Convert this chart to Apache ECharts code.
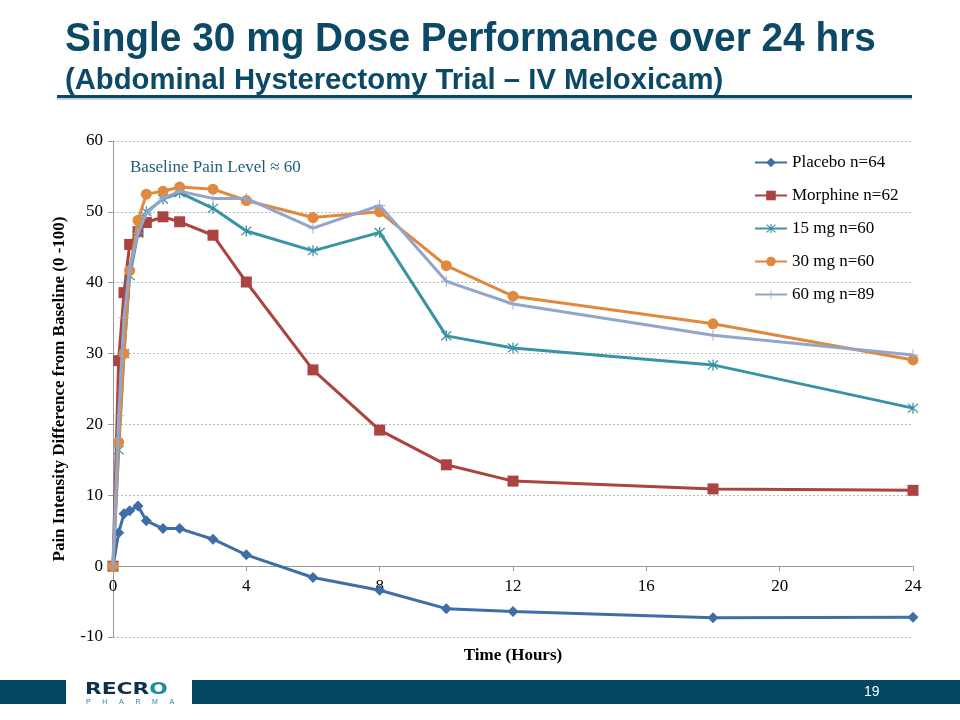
<!DOCTYPE html>
<html>
<head>
<meta charset="utf-8">
<script src="https://cdn.jsdelivr.net/npm/echarts@6/dist/echarts.min.js"></script>
<style>
html,body{margin:0;padding:0;background:#fff;}
#c{width:960px;height:720px;}
</style>
</head>
<body>
<div id="c"></div>
<script>
// ---- data ----
var timeHours = [0, 0.17, 0.33, 0.5, 0.75, 1, 1.5, 2, 3, 4, 6, 8, 10, 12, 18, 24];
var seriesNames = ['Placebo n=64', 'Morphine n=62', '15 mg n=60', '30 mg n=60', '60 mg n=89'];
var placebo  = [0, 4.7, 7.4, 7.8, 8.5, 6.4, 5.3, 5.3, 3.8, 1.6, -1.6, -3.4, -6.0, -6.4, -7.3, -7.2];
var morphine = [0, 29.0, 38.6, 45.4, 47.2, 48.5, 49.3, 48.6, 46.7, 40.1, 27.7, 19.2, 14.3, 12.0, 10.9, 10.7];
var mg15     = [0, 16.4, 30.0, 41.0, 47.0, 50.0, 51.8, 52.7, 50.5, 47.3, 44.5, 47.1, 32.5, 30.8, 28.4, 22.3];
var mg30     = [0, 17.5, 30.0, 41.7, 48.8, 52.5, 52.9, 53.5, 53.2, 51.6, 49.2, 50.0, 42.4, 38.1, 34.2, 29.1];
var mg60     = [0, 21.2, 35.1, 42.0, 47.0, 49.8, 51.9, 52.9, 51.9, 51.9, 47.7, 50.9, 40.2, 37.0, 32.6, 29.8];
var xTicks = [0, 4, 8, 12, 16, 20, 24];
var yTicks = [-10, 0, 10, 20, 30, 40, 50, 60];

var titleLine1 = 'Single 30 mg Dose Performance over 24 hrs';
var titleLine2 = '(Abdominal Hysterectomy Trial \u2013 IV Meloxicam)';
var annotation = 'Baseline Pain Level \u2248 60';
var xName = 'Time (Hours)';
var yName = 'Pain Intensity Difference from Baseline (0 -100)';
var pageNum = '19';

// ---- styles ----
var colors = ['#3f6ea7', '#ab4340', '#3a93a5', '#e0893d', '#92a6cb'];
var asterisk = 'path://M9,0 L11,0 L11,20 L9,20 Z M1.3,2.7 L2.7,1.3 L18.7,17.3 L17.3,18.7 Z M17.3,1.3 L18.7,2.7 L2.7,18.7 L1.3,17.3 Z';
var plus = 'path://M9.2,0 L10.8,0 L10.8,9.2 L20,9.2 L20,10.8 L10.8,10.8 L10.8,20 L9.2,20 L9.2,10.8 L0,10.8 L0,9.2 L9.2,9.2 Z';
var symbols = ['diamond', 'rect', asterisk, 'circle', plus];
var symbolSizes = [11, 11, 11, 11, 11];
var values = [placebo, morphine, mg15, mg30, mg60];
var serif = '"Liberation Serif", "Times New Roman", serif';
var sans = '"Liberation Sans", Arial, sans-serif';
var navy = '#0b4967';

function pairs(arr) { return timeHours.map(function (t, i) { return [t, arr[i]]; }); }

var series = values.map(function (v, i) {
  return {
    name: seriesNames[i], type: 'line', data: pairs(v),
    symbol: symbols[i], symbolSize: symbolSizes[i],
    lineStyle: { width: 3, color: colors[i] },
    itemStyle: { color: colors[i] },
    showAllSymbol: true, animation: false, z: 2 + i
  };
});

var chart = echarts.init(document.getElementById('c'));
chart.setOption({
  animation: false,
  color: colors,
  grid: { left: 113, right: 47, top: 141, bottom: 83, containLabel: false, outerBoundsMode: 'none' },
  legend: {
    orient: 'vertical', left: 749, top: 149, itemWidth: 32, itemHeight: 12, itemGap: 16,
    textStyle: { fontFamily: serif, fontSize: 17, color: '#000' },
    data: seriesNames
  },
  xAxis: {
    type: 'value', min: 0, max: 24, interval: 4,
    axisLine: { onZero: true, lineStyle: { color: '#9a9a9a', width: 1 } },
    axisTick: { show: true, length: 5, lineStyle: { color: '#9a9a9a' } },
    axisLabel: { fontFamily: serif, fontSize: 17, color: '#000', margin: -59,
      formatter: function (v) { return xTicks.indexOf(v) >= 0 ? String(v) : ''; } },
    splitLine: { show: false },
    name: xName, nameLocation: 'middle', nameGap: 10, nameMoveOverlap: false,
    nameTextStyle: { fontFamily: serif, fontSize: 17, fontWeight: 'bold', color: '#000' }
  },
  yAxis: {
    type: 'value', min: -10, max: 60, interval: 10,
    axisLine: { show: true, onZero: false, lineStyle: { color: '#9a9a9a', width: 1 } },
    axisTick: { show: true, length: 5, lineStyle: { color: '#9a9a9a' } },
    axisLabel: { fontFamily: serif, fontSize: 17, color: '#000', margin: 10,
      formatter: function (v) { return yTicks.indexOf(v) >= 0 ? String(v) : ''; } },
    splitLine: { show: true, lineStyle: { color: '#b8b8b8', type: [2, 2], width: 1 } },
    name: yName, nameLocation: 'middle', nameGap: 45,
    nameTextStyle: { fontFamily: serif, fontSize: 17, fontWeight: 'bold', color: '#000' }
  },
  graphic: [
    { type: 'text', x: 65, y: 20, scaleX: 0.97, style: { text: titleLine1, font: 'bold 40px ' + sans, fill: navy, textVerticalAlign: 'top' } },
    { type: 'text', x: 65, y: 66, scaleX: 0.975, style: { text: titleLine2, font: 'bold 30px ' + sans, fill: navy, textVerticalAlign: 'top' } },
    { type: 'rect', shape: { x: 57, y: 97, width: 855, height: 3 }, style: { fill: '#c9d3da' }, z: 1 },
    { type: 'rect', shape: { x: 57, y: 95, width: 855, height: 3 }, style: { fill: navy }, z: 2 },
    { type: 'text', left: 130, top: 159, style: { text: annotation, font: '17px ' + serif, fill: '#1c5e78' } },
    { type: 'rect', shape: { x: 0, y: 680, width: 66, height: 24 }, style: { fill: '#02475f' } },
    { type: 'rect', shape: { x: 192, y: 680, width: 768, height: 24 }, style: { fill: '#02475f' } },
    { type: 'text', x: 85, y: 682, scaleX: 1.36, style: {
        text: '{a|RECR}{b|O}', textVerticalAlign: 'top',
        rich: { a: { font: 'bold 16px "DejaVu Sans", sans-serif', fill: '#0f2f4d' },
                b: { font: 'bold 16px "DejaVu Sans", sans-serif', fill: '#1c8fa0' } } } },
    { type: 'text', x: 86, y: 699, style: { text: 'P      H      A      R      M      A', font: '7px "Liberation Sans", sans-serif', fill: '#1c8fa0', textVerticalAlign: 'top' } },
    { type: 'text', left: 864, top: 685, style: { text: pageNum, font: '14px "Liberation Sans", sans-serif', fill: '#ffffff' } }
  ],
  series: series
});
</script>
</body>
</html>
